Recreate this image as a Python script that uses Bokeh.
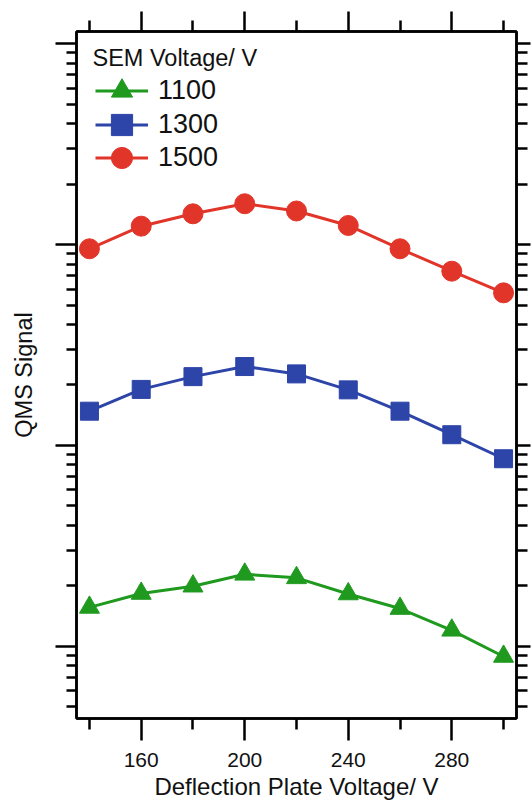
from bokeh.plotting import figure
from bokeh.models import (Range1d, FixedTicker, LinearAxis, LogAxis, Legend,
                          LegendItem, CustomJSTickFormatter, ColumnDataSource, Label)
from bokeh.embed import file_html
from bokeh.resources import INLINE

# ---- data ----
voltage = [140, 160, 180, 200, 220, 240, 260, 280, 300]
sig_1100 = [1.56, 1.83, 1.99, 2.28, 2.19, 1.82, 1.54, 1.20, 0.889]
sig_1300 = [14.8, 19.0, 22.0, 24.7, 22.7, 18.9, 14.8, 11.3, 8.58]
sig_1500 = [95.3, 123.5, 142.3, 159.7, 147.0, 124.5, 95.3, 73.7, 57.5]
series_labels = ["1100", "1300", "1500"]
x_major_ticks = [160, 200, 240, 280]
x_minor_ticks = [140, 180, 220, 260, 300]
y_decades = [1, 10, 100, 1000]
legend_title = "SEM Voltage/ V"
x_title = "Deflection Plate Voltage/ V"
y_title = "QMS Signal"

FONT = "Liberation Sans"
TXT = "#111111"
colors = ["#1f9a1f", "#2d44a8", "#e2352a"]
markers = ["triangle", "square", "circle"]
msizes = [20, 18, 20]
legend_y = [601, 567.5, 534]   # screen offsets of the legend rows

y_minor = [k * d / 10 for d in [1] + y_decades for k in range(2, 10)]

p = figure(width=531, height=803,
           x_range=Range1d(135, 305), y_range=Range1d(0.4365, 1151),
           y_axis_type="log", output_backend="svg", toolbar_location=None,
           min_border_left=76, min_border_right=15, min_border_top=31,
           min_border_bottom=85)
p.grid.visible = False
p.outline_line_color = "black"
p.outline_line_width = 2.5
p.background_fill_color = "white"


def xt():
    return FixedTicker(ticks=x_major_ticks, minor_ticks=x_minor_ticks)


def yt():
    return FixedTicker(ticks=y_decades, minor_ticks=y_minor)


def empty():
    return CustomJSTickFormatter(code="return ''")


def style_axis(ax, major, minor):
    ax.axis_line_width = 2.5
    ax.axis_line_color = "black"
    ax.major_tick_line_width = 2.5
    ax.minor_tick_line_width = 2.5
    ax.major_tick_line_color = "black"
    ax.minor_tick_line_color = "black"
    ax.major_tick_in = 0
    ax.minor_tick_in = 0
    ax.major_tick_out = major
    ax.minor_tick_out = minor


# bottom axis
bx = p.xaxis[0]
bx.ticker = xt()
style_axis(bx, 22, 11)
bx.major_label_text_font = FONT
bx.major_label_text_font_size = "21px"
bx.major_label_text_color = TXT
bx.major_label_standoff = 12
bx.axis_label = x_title
bx.axis_label_text_font = FONT
bx.axis_label_text_font_size = "24px"
bx.axis_label_text_font_style = "normal"
bx.axis_label_text_color = TXT
bx.axis_label_standoff = 3

# left axis
ly = p.yaxis[0]
ly.ticker = yt()
style_axis(ly, 21, 10)
ly.formatter = empty()
ly.major_label_text_font_size = "1px"
ly.major_label_standoff = 0
ly.axis_label = y_title
ly.axis_label_text_font = FONT
ly.axis_label_text_font_size = "23.5px"
ly.axis_label_text_font_style = "normal"
ly.axis_label_text_color = TXT
ly.axis_label_standoff = 19

# right axis
ry = LogAxis(ticker=yt(), formatter=empty())
style_axis(ry, 14, 11)
ry.major_label_text_font_size = "1px"
ry.major_label_standoff = 0
p.add_layout(ry, "right")

# top axis
tx = LinearAxis(ticker=xt(), formatter=empty())
style_axis(tx, 20, 11)
tx.major_label_text_font_size = "1px"
tx.major_label_standoff = 0
p.add_layout(tx, "above")

for vals, lab, col, mk, ms, ly_pos in zip([sig_1100, sig_1300, sig_1500],
                                          series_labels, colors, markers,
                                          msizes, legend_y):
    src = ColumnDataSource(dict(x=voltage, y=vals))
    ln = p.line("x", "y", source=src, line_color=col, line_width=3)
    sc = p.scatter("x", "y", source=src, marker=mk, size=ms,
                   fill_color=col, line_color=col)
    leg = Legend(items=[LegendItem(label=lab, renderers=[ln, sc])],
                 location=(19, ly_pos), margin=0, padding=0, spacing=0,
                 glyph_width=53, glyph_height=53, label_standoff=10,
                 border_line_color=None, background_fill_alpha=0)
    leg.label_text_font = FONT
    leg.label_text_font_size = "27px"
    leg.label_text_color = TXT
    p.add_layout(leg)

title = Label(x=16, y=660.5, x_units="screen", y_units="screen",
              text=legend_title, text_font=FONT, text_font_size="23.5px",
              text_color=TXT, text_baseline="middle", text_align="left")
p.add_layout(title)

open("out.html", "w").write(file_html(p, INLINE))
